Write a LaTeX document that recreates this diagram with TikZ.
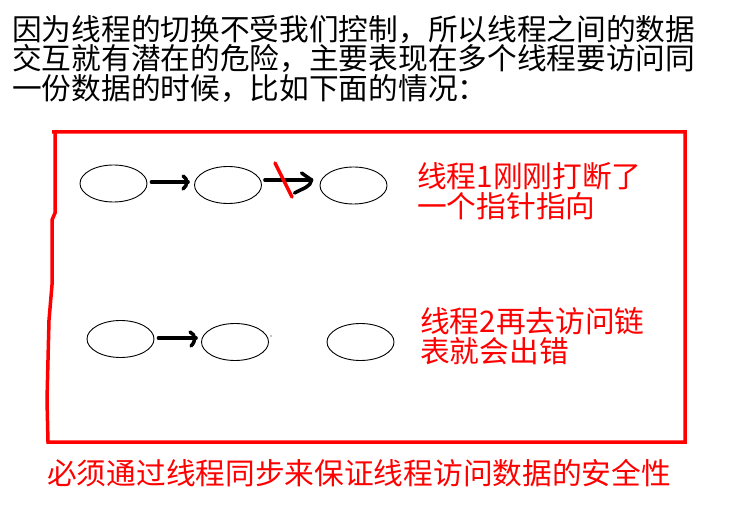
\documentclass[tikz,border=0pt]{standalone}
\usepackage{fontspec}
\newfontfamily\cjk{Noto Sans CJK SC}
\usetikzlibrary{shapes.geometric,calc}
\begin{document}
\begin{tikzpicture}[x=1pt,y=-1pt,
  datanode/.style={draw=black, line width=0.9pt, ellipse, minimum width=67pt, minimum height=37pt, inner sep=0pt},
  conn/.style={line width=3.5pt, draw=black, line cap=round, line join=round},
  redbox/.style={draw=red, line width=3.5pt, line join=miter},
  slash/.style={draw=red, line width=3.5pt, line cap=round},
  hdr/.style={anchor=base west, inner sep=0pt, font=\cjk\fontsize{29.7}{29.7}\selectfont},
  redtxt/.style={hdr, text=red}]
\useasboundingbox[fill=white] (0,0) rectangle (738,510);

% header text
\node[hdr] (l1) at (12,40.5) {因为线程的切换不受我们控制，所以线程之间的数据};
\node[hdr] (l2) at (12,70) {交互就有潜在的危险，主要表现在多个线程要访问同};
\node[hdr] (l3) at (12,99.5) {一份数据的时候，比如下面的情况：};

% red frame
\draw[redbox] (52,132) -- (685,132) -- (685,442) -- (48,442) -- (47,400) -- (49,320)
  -- (52,285) -- (52,220) -- (55,213) -- (55,132);

% data nodes
\node[datanode] (a1) at (113.5,183.5) {};
\node[datanode] (a2) at (228,185) {};
\node[datanode] (a3) at (353.5,185.5) {};
\node[datanode] (b1) at (120.5,339) {};
\node[datanode] (b2) at (235,342) {};
\node[datanode] (b3) at (360.5,342) {};

% row 1 arrows
\draw[conn] ([shift={(4,-1.5)}]a1.east) -- ([shift={(-6,-3)}]a2.west) coordinate (t1);
\draw[conn] ($(t1)+(-5,-6)$) .. controls ($(t1)+(0,-3)$) and ($(t1)+(0,3)$) .. ($(t1)+(-5,7)$);
\draw[conn] ([shift={(3,-5)}]a2.east) -- ([shift={(-8,-5.5)}]a3.west) coordinate (t2);
\draw[conn] ($(t2)+(-10,-7)$) -- (t2) .. controls ($(t2)+(-1,7)$) and ($(t2)+(-8,8)$) .. ($(t2)+(-17,13)$);
\draw[slash] (275,163) -- (292,197);

% row 2 arrow
\draw[conn] ([shift={(4,-1)}]b1.east) -- ([shift={(-5,-4)}]b2.west) coordinate (t3);
\draw[conn] ($(t3)+(-6,-6)$) .. controls ($(t3)+(0,-3)$) and ($(t3)+(0,3)$) .. ($(t3)+(-5,8)$);
\fill (271,336) circle (0.6);

% red notes
\node[redtxt] (r1) at (417,188) {线程1刚刚打断了};
\node[redtxt] (r2) at (417,218) {一个指针指向};
\node[redtxt] (r3) at (420,332) {线程2再去访问链};
\node[redtxt] (r4) at (420,362) {表就会出错};
\node[redtxt] (r5) at (47,484) {必须通过线程同步来保证线程访问数据的安全性};
\end{tikzpicture}
\end{document}
